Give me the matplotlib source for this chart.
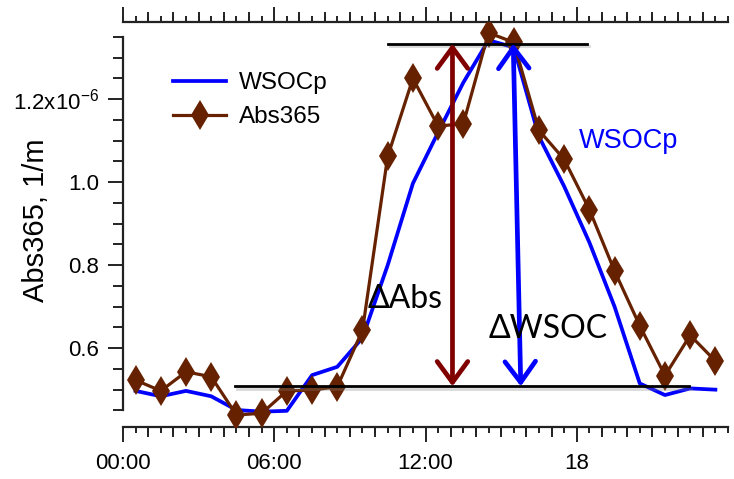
import numpy as np
import matplotlib
matplotlib.use("Agg")
import matplotlib.pyplot as plt
import matplotlib.patheffects as pe
from matplotlib.ticker import MultipleLocator, FixedLocator
from matplotlib.lines import Line2D

plt.rcParams['font.family'] = ['Liberation Sans', 'DejaVu Sans']
plt.rcParams['mathtext.fontset'] = 'custom'
plt.rcParams['mathtext.rm'] = 'Liberation Sans'

# hourly values, time in hours of day
hours = [0.5, 1.5, 2.5, 3.5, 4.5, 5.5, 6.5, 7.5, 8.5, 9.5, 10.5, 11.5,
         12.5, 13.5, 14.5, 15.5, 16.5, 17.5, 18.5, 19.5, 20.5, 21.5, 22.5, 23.5]
abs365 = [0.523, 0.497, 0.543, 0.531, 0.439, 0.443, 0.497, 0.499, 0.507, 0.643, 1.062, 1.250,
          1.135, 1.141, 1.360, 1.337, 1.125, 1.055, 0.934, 0.786, 0.654, 0.534, 0.631, 0.569]
wsocp = [0.497, 0.484, 0.497, 0.484, 0.451, 0.447, 0.449, 0.535, 0.555, 0.625, 0.800, 0.997,
         1.120, 1.240, 1.342, 1.325, 1.110, 0.990, 0.855, 0.700, 0.515, 0.487, 0.503, 0.500]

xtick_pos = [0, 6, 12, 18]
xtick_labels = ['00:00', '06:00', '12:00', '18']
ytick_pos = [0.6, 0.8, 1.0, 1.2]
ytick_labels = ['0.6', '0.8', '1.0', '1.2x10$^{\\mathregular{-6}}$']

# annotation geometry (baseline / peak lines, delta arrows)
base_y = 0.508
peak_y = 1.334
base_x = (4.45, 22.45)
peak_x = (10.5, 18.4)
abs_arrow_x = 13.07
wsoc_arrow_x = (15.78, 15.48)   # bottom, top

brown = '#662200'
blue = '#0000ff'
darkred = '#800000'

fig = plt.figure(figsize=(7.34, 4.79), dpi=100)
ax = fig.add_axes([123 / 734, 52 / 479, 605 / 734, 405 / 479])

ax.plot(hours, wsocp, color=blue, lw=2.7, zorder=3)
ax.plot(hours, abs365, color=brown, lw=2.3, marker='d', markersize=15.5,
        markeredgewidth=0, zorder=4)

ax.set_xlim(0, 24)
ax.set_ylim(0.410, 1.386)

# axes styling
for s in ['left', 'bottom', 'top']:
    ax.spines[s].set_linewidth(1.6)
    ax.spines[s].set_color('#222222')
ax.spines['right'].set_visible(False)
ax.spines['left'].set_bounds(0.45, 1.35)

ax.xaxis.set_major_locator(FixedLocator(xtick_pos))
ax.set_xticklabels(xtick_labels)
ax.xaxis.set_minor_locator(MultipleLocator(0.5))
ax.yaxis.set_major_locator(FixedLocator(ytick_pos))
ax.set_yticklabels(ytick_labels)
ax.yaxis.set_minor_locator(MultipleLocator(0.05))

ax.tick_params(axis='x', which='major', direction='out', length=11, width=1.4,
               top=True, labelsize=16, pad=8, color='#222222')
ax.tick_params(axis='x', which='minor', direction='out', length=4.5, width=1.4,
               top=True, color='#222222')
ax.tick_params(axis='y', which='major', direction='out', length=11, width=1.4,
               labelsize=16, pad=6, color='#222222')
ax.tick_params(axis='y', which='minor', direction='out', length=7, width=1.4,
               color='#222222')

# hourly ticks a bit longer than half-hour ones
hour_ticks = [h for h in range(1, 24) if h % 6 != 0]
for side in ['bottom', 'top']:
    sec = ax.secondary_xaxis(side)
    sec.set_xticks(hour_ticks)
    sec.tick_params(direction='out', length=7, width=1.4, color='#222222',
                    labelbottom=False, labeltop=False)
    sec.spines[side].set_visible(False)

fig.text(36 / 734, 1 - 220 / 479, 'Abs365, 1/m', rotation=90, ha='center',
         va='center', fontsize=21)

# legend
handles = [Line2D([], [], color=blue, lw=2.7),
           Line2D([], [], color=brown, lw=2.3, marker='d', markersize=15.5,
                  markeredgewidth=0)]
ax.legend(handles, ['WSOCp', 'Abs365'], loc='upper left', frameon=False,
          bbox_to_anchor=(173 / 734, 1 - 72 / 479), bbox_transform=fig.transFigure,
          fontsize=17.5, handlelength=2.2, handletextpad=0.5, labelspacing=0.5,
          borderpad=0, borderaxespad=0)

shadow = [pe.SimpleLineShadow(offset=(1.5, -2), shadow_color='gray', alpha=0.3),
          pe.Normal()]

ax.plot(base_x, [base_y, base_y], color='black', lw=2, zorder=5, path_effects=shadow)
ax.plot(peak_x, [peak_y, peak_y], color='black', lw=2, zorder=5, path_effects=shadow)

arrow_style = '<->,head_length=0.75,head_width=0.55'
a1 = ax.annotate('', xy=(abs_arrow_x, peak_y), xytext=(abs_arrow_x, base_y),
                 arrowprops=dict(arrowstyle=arrow_style, mutation_scale=20,
                                 lw=3.4, color=darkred, shrinkA=0, shrinkB=0),
                 zorder=6)
a2 = ax.annotate('', xy=(wsoc_arrow_x[1], peak_y), xytext=(wsoc_arrow_x[0], base_y),
                 arrowprops=dict(arrowstyle=arrow_style, mutation_scale=20,
                                 lw=3.4, color=blue, shrinkA=0, shrinkB=0),
                 zorder=6)

ax.text(9.7, 0.696, '\u0394Abs', fontsize=23, family=['Lato', 'DejaVu Sans'],
        ha='left', va='baseline', zorder=7)
ax.text(14.5, 0.624, '\u0394WSOC', fontsize=23, family=['Lato', 'DejaVu Sans'],
        ha='left', va='baseline', zorder=7)
ax.text(18.1, 1.082, 'WSOCp', fontsize=19.5, color=blue, ha='left',
        va='baseline', zorder=7)

fig.savefig('out.png', dpi=100)
